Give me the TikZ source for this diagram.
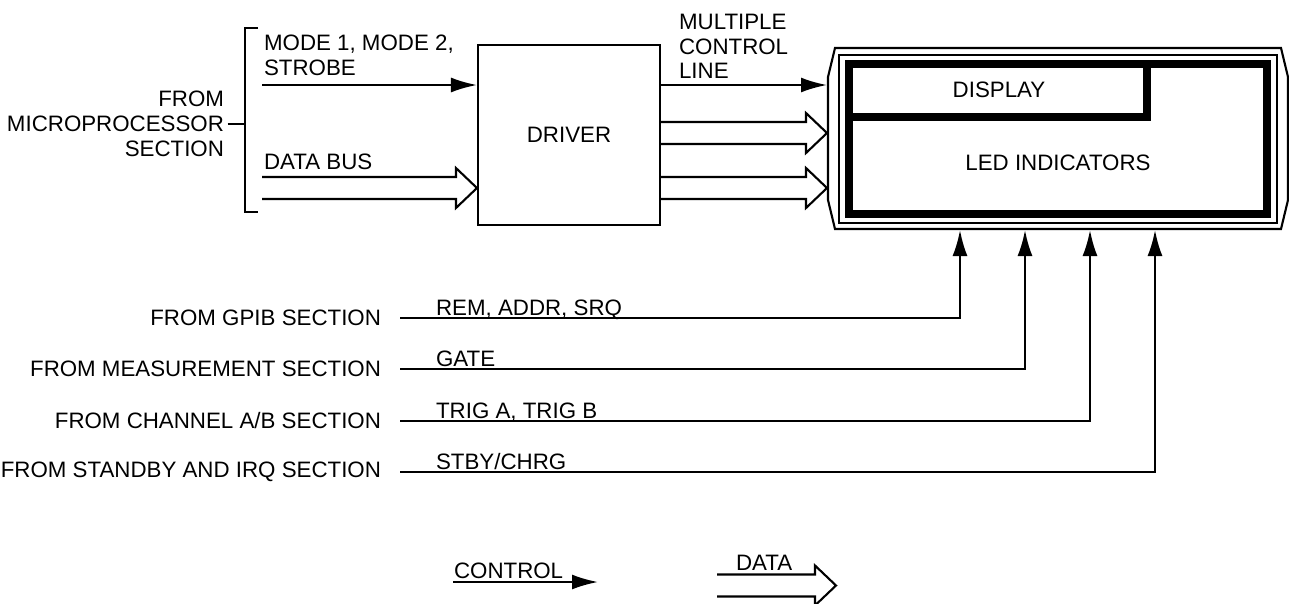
\documentclass[tikz,border=0pt]{standalone}
\usepackage{fontspec}
\setmainfont{Liberation Sans}
\usepackage{tikz}
\usetikzlibrary{arrows.meta, calc}
% two-line data bus with open chevron head, from #1 to tip #2
\newcommand{\databus}[2]{%
  \draw[line width=1.2pt, line join=miter]
    ($(#1)+(0,-11)$) -- ($(#2)+(-21,-11)$) -- ($(#2)+(-21,-20)$) -- (#2)
    -- ($(#2)+(-21,20)$) -- ($(#2)+(-21,11)$) -- ($(#1)+(0,11)$);}

\begin{document}
\begin{tikzpicture}[x=0.02cm, y=-0.02cm, line width=1.2pt,
    font=\fontsize{12.7}{14.2}\selectfont,
    ctrl/.style={-{Latex[length=0.52cm, width=0.3cm]}},
    lbl/.style={inner sep=0pt}]
  \useasboundingbox (0,0) rectangle (1289,603);
  % driver block
  \node[draw, minimum width=3.64cm, minimum height=3.6cm] (drv) at (569,135) {DRIVER};
  % display panel outline
  \node[minimum width=9.2cm, minimum height=3.62cm, inner sep=0pt] (panel) at (1058,138.5) {};
  \draw (835,48) -- (1281,48) -- (1288,77) -- (1288,200) -- (1281,229)
    -- (835,229) -- (828,200) -- (828,77) -- cycle;
  \draw (839,55) rectangle (1277,223);
  \draw[line width=4.5pt] (849,64) rectangle (1267,214);
  \draw[line width=4.5pt] (849,117) -- (1147,117) -- (1147,64);
  \node (disp) at (999,90) {DISPLAY};
  \node (ledtxt) at (1058,163) {LED INDICATORS};
  % microprocessor inputs
  \node[lbl, anchor=east, align=right] (mpu) at (225,124) {FROM\\MICROPROCESSOR\\SECTION};
  \coordinate (brk) at (245,124);
  \draw ([xshift=0.05cm]mpu.east) -- (brk);
  \draw (258,28) -- (245,28) -- (245,212) -- (258,212);
  \node[lbl, anchor=south west, align=left] (modes) at (263,77) {MODE 1, MODE 2,\\STROBE};
  \coordinate (mdin) at (262,85);
  \draw[ctrl] (mdin) -- (mdin -| drv.west);
  \node[lbl, anchor=base west] (dbus) at (263,169) {DATA BUS};
  \coordinate (dbin) at (262,188);
  \coordinate (dbtip) at (dbin -| drv.west);
  \databus{dbin}{dbtip}
  % driver outputs
  \node[lbl, anchor=south west, align=left] (mcl) at (678,80) {MULTIPLE\\CONTROL\\LINE};
  \draw[ctrl] (drv.east |- mdin) -- (panel.west |- mdin);
  \coordinate (ob1) at (drv.east |- 0,133);
  \coordinate (ot1) at (panel.west |- ob1);
  \databus{ob1}{ot1}
  \coordinate (ob2) at (drv.east |- 0,188);
  \coordinate (ot2) at (panel.west |- ob2);
  \databus{ob2}{ot2}
  % status lines into the panel
  \foreach \src/\sig/\y/\x/\n in {{FROM GPIB SECTION}/{REM, ADDR, SRQ}/318/960/a,
      {FROM MEASUREMENT SECTION}/{GATE}/369/1025/b,
      {FROM CHANNEL A/B SECTION}/{TRIG A, TRIG B}/421/1090/c,
      {FROM STANDBY AND IRQ SECTION}/{STBY/CHRG}/472/1155/d}{
    \node[anchor=east, inner xsep=0.36cm, inner ysep=0pt] (src\n) at (400,\y) {\src};
    \node[lbl, anchor=base west] (sig\n) at (435,\y-3) {\sig};
    \coordinate (in\n) at (\x,0 |- panel.south);
    \draw[ctrl] (src\n.east) -| (in\n);
  }
  % legend
  \node[lbl, anchor=base west] (lgc) at (453,578) {CONTROL};
  \coordinate (lgcend) at (598,582);
  \draw[ctrl] (lgc.west |- lgcend) -- (lgcend);
  \node[lbl, anchor=base west] (lgd) at (735,570) {DATA};
  \coordinate (lgdin) at (717,585.5);
  \coordinate (lgdtip) at (836,585.5);
  \databus{lgdin}{lgdtip}
\end{tikzpicture}
\end{document}
